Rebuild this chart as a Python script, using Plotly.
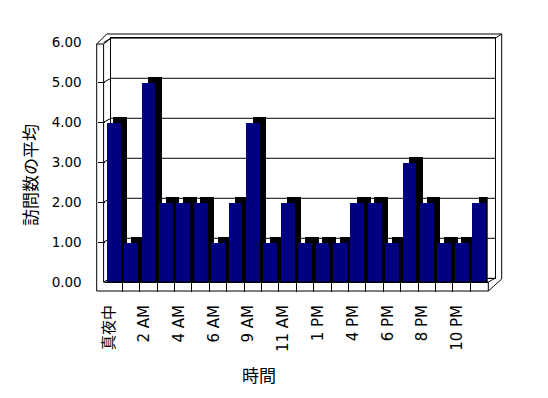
import plotly.graph_objects as go

# ---- data ----
categories = ["真夜中", "1 AM", "2 AM", "3 AM", "4 AM", "5 AM", "6 AM", "8 AM",
              "9 AM", "10 AM", "11 AM", "12 PM", "1 PM", "3 PM", "4 PM", "5 PM",
              "6 PM", "7 PM", "8 PM", "9 PM", "10 PM", "11 PM"]
avg_visits = [4, 1, 5, 2, 2, 2, 1, 2, 4, 1, 2, 1, 1, 1, 2, 2, 1, 3, 2, 1, 1, 2]
y_ticks = [0, 1, 2, 3, 4, 5, 6]
y_title = "訪問数の平均"
x_title = "時間"

# ---- layout helpers (pixel -> paper) ----
W, H = 548, 398
ML, MR, MT, MB = 96, 46, 33, 106
PW = W - ML - MR
PH = H - MT - MB
PB = H - MB


def fx(px):
    return (px - ML) / PW


def fy(py):
    return (PB - py) / PH


# front face geometry (px)
FX0, FX1 = 104.9, 487.7
FY0, FY1 = 282.0, 42.5
# back wall geometry (px)
BX0, BX1 = 110.7, 495.0
BY0, BY1 = 278.3, 38.3
DEPTH = 0.14        # 3D depth of the bar (vertical, data units)
SHIFT = 0.38        # 3D depth of the bar (horizontal, category units)
LABEL_SHIFT = -0.25
YMAX = 6

n = len(categories)
idx = list(range(n))
label_idx = idx[::2]

fig = go.Figure()

# 3D side/top of each column (drawn first, behind the front faces)
fig.add_trace(go.Bar(
    x=idx, y=[v + DEPTH for v in avg_visits], xaxis="x2", yaxis="y2",
    width=0.8, offset=-0.4 + SHIFT,
    marker=dict(color="#000000", line=dict(width=0)),
    hoverinfo="skip", showlegend=False,
))
# front faces
fig.add_trace(go.Bar(
    x=idx, y=avg_visits, xaxis="x2", yaxis="y2",
    width=0.8, offset=-0.4,
    marker=dict(color="#000080", line=dict(width=0)),
    name=y_title, showlegend=False,
))

black = dict(color="black", width=1)
shapes = []


def seg(x0, y0, x1, y1, layer="above"):
    shapes.append(dict(type="line", xref="paper", yref="paper",
                       x0=fx(x0), y0=fy(y0), x1=fx(x1), y1=fy(y1),
                       line=black, layer=layer))


LW0, LW1 = 96.7, 103.6      # left wall front face
FLB = 291.0                 # floor front face bottom
RO = 501.7                  # right outer edge
TO = 34.0                   # top outer edge

# left wall
seg(LW0, 44, LW0, FLB)
seg(LW1, 44, LW1, FY0)
seg(LW0, 44, LW1, 44)
seg(LW0, 44, 106.7, TO)
seg(LW1, 44, BX0, BY1)
# top / right outer
seg(106.7, TO, RO, TO)
seg(BX1, BY1, RO, TO)
seg(RO, TO, RO, 279)
# floor front face
seg(LW1, FY0, 488.3, FY0)
seg(LW0, FLB, 488.3, FLB)
seg(488.3, FY0, 488.3, FLB)
seg(488.3, FLB, RO, 279)
seg(488.3, FY0, BX1, BY0)
# left wall tick diagonals (front tick -> back gridline)
for v in y_ticks:
    yf = FY0 + (FY1 - FY0) * v / YMAX
    yb = BY0 + (BY1 - BY0) * v / YMAX
    seg(LW1, yf, BX0, yb, layer="below")
# back wall gridlines
for v in y_ticks:
    shapes.append(dict(type="line", xref="x", yref="y", x0=0, x1=1, y0=v, y1=v,
                       line=black, layer="below"))

fig.update_layout(
    width=W, height=H,
    margin=dict(l=ML, r=MR, t=MT, b=MB, pad=0),
    paper_bgcolor="white", plot_bgcolor="rgba(0,0,0,0)",
    barmode="overlay", bargap=0,
    font=dict(family="DejaVu Sans, Noto Sans CJK JP", color="black", size=13),
    # back wall
    xaxis=dict(domain=[fx(BX0), fx(BX1)], range=[0, 1], showline=True, mirror=True,
               linecolor="black", linewidth=1, showgrid=False, zeroline=False,
               showticklabels=False, ticks="", fixedrange=True),
    yaxis=dict(domain=[fy(BY0), fy(BY1)], range=[0, YMAX], showline=True, mirror=True,
               linecolor="black", linewidth=1, showgrid=False,
               zeroline=False, showticklabels=False, ticks="", fixedrange=True),
    # front
    xaxis2=dict(domain=[fx(FX0), fx(FX1)], range=[-0.5, n - 0.5], anchor="y2",
                showline=True, linecolor="black", linewidth=1, showgrid=False,
                zeroline=False, tickmode="array",
                tickvals=[i + LABEL_SHIFT for i in label_idx],
                ticktext=[categories[i] for i in label_idx], tickangle=-90,
                ticks="outside", ticklen=9, tickcolor="rgba(0,0,0,0)",
                ticklabelstandoff=7,
                tickfont=dict(family="DejaVu Sans, Noto Sans CJK JP", size=15),
                minor=dict(tickmode="array", tickvals=[i + 0.5 for i in idx[:-1]],
                           ticks="outside", ticklen=9, tickcolor="black", tickwidth=1,
                           showgrid=False),
                fixedrange=True),
    yaxis2=dict(domain=[fy(FY0), fy(FY1)], range=[0, YMAX], anchor="free",
                position=fx(LW0), side="left", showline=False, showgrid=False,
                zeroline=False, tickmode="array", tickvals=y_ticks, tickformat=".2f",
                ticks="inside", ticklen=7, tickcolor="black", tickwidth=1,
                ticklabelstandoff=15,
                tickfont=dict(family="DejaVu Sans", size=13.5),
                fixedrange=True),
    shapes=shapes,
    annotations=[
        dict(text=y_title, xref="paper", yref="paper", x=fx(29), y=fy(175),
             showarrow=False, textangle=-90, xanchor="center", yanchor="middle",
             font=dict(family="Noto Sans CJK JP", size=17)),
        dict(text=x_title, xref="paper", yref="paper", x=fx(259), y=fy(374),
             showarrow=False, xanchor="center", yanchor="middle",
             font=dict(family="Noto Sans CJK JP", size=17)),
    ],
)

fig.write_html("out.html", config={"displayModeBar": False},
               post_script="document.body.style.margin='0px';")
